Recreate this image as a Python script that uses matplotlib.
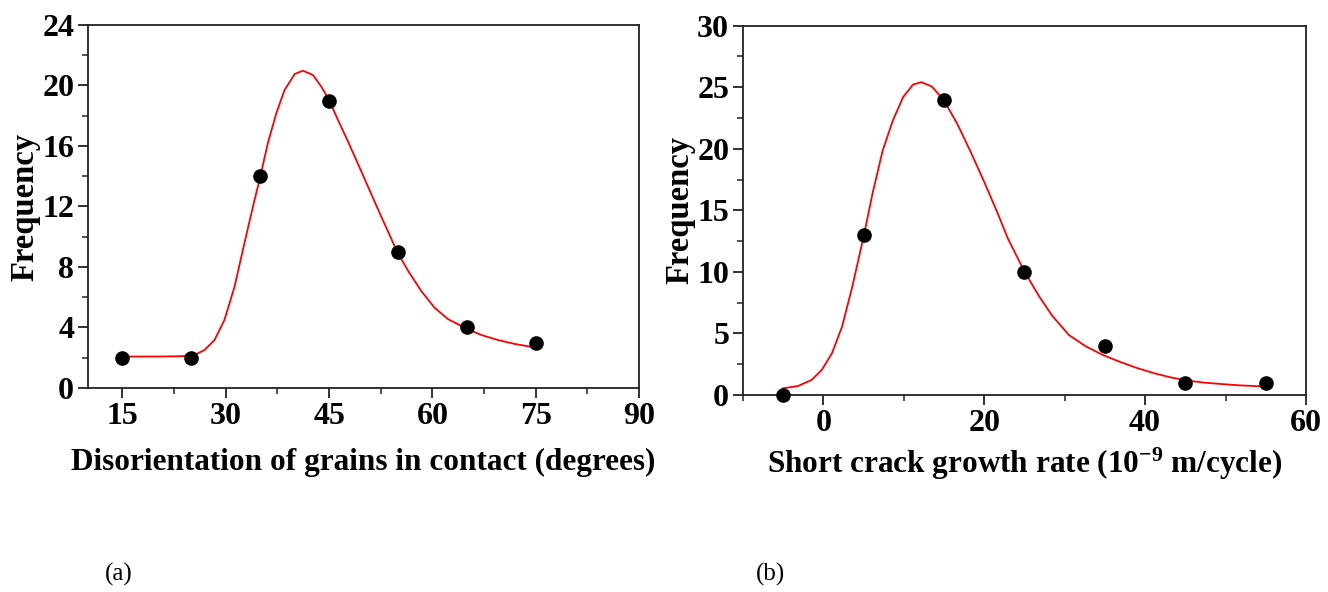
import matplotlib
matplotlib.use("Agg")
import matplotlib.pyplot as plt
from matplotlib.ticker import MultipleLocator, AutoMinorLocator

plt.rcParams["mathtext.fontset"] = "custom"
plt.rcParams["mathtext.rm"] = "Liberation Serif:bold"
plt.rcParams["mathtext.it"] = "Liberation Serif:bold"
plt.rcParams["mathtext.bf"] = "Liberation Serif:bold"

# ---- panel (a): disorientation of grains in contact ----
a_x = [15, 25, 35, 45, 55, 65, 75]
a_freq = [2, 2, 14, 19, 9, 4, 3]
# fitted curve
a_fit_x = [15, 20, 23.5, 25.45, 26.9, 28.36, 29.8, 31.27, 32.7, 33.94, 35.0, 36.1,
           37.33, 38.53, 40.0, 41.2, 42.66, 43.87, 45.0, 46.29, 47.75, 49.2, 50.65,
           52.6, 53.8, 54.87, 56.47, 58.4, 60.33, 62.28, 64.84, 67.12, 69.55, 71.97,
           74.78]
a_fit_y = [2.08, 2.08, 2.1, 2.18, 2.51, 3.17, 4.5, 6.7, 9.57, 11.99, 13.97, 16.18,
           18.16, 19.7, 20.76, 20.98, 20.69, 19.92, 19.04, 17.72, 16.29, 14.81, 13.31,
           11.3, 10.1, 9.0, 7.75, 6.4, 5.3, 4.55, 3.95, 3.5, 3.17, 2.91, 2.69]

# ---- panel (b): short crack growth rate ----
b_x = [-5, 5, 15, 25, 35, 45, 55]
b_freq = [0, 13, 24, 10, 4, 1, 1]
b_fit_x = [-5.05, -3.16, -1.48, -0.21, 1.05, 2.31, 3.58, 5.05, 6.1, 7.37, 8.63, 9.9,
           11.14, 12.2, 13.47, 14.95, 16.63, 18.32, 20.0, 21.68, 22.94, 24.97, 26.73,
           28.43, 30.53, 32.63, 34.74, 36.84, 38.95, 41.06, 43.16, 45.27, 47.38, 49.48,
           51.59, 55.03]
b_fit_y = [0.54, 0.73, 1.22, 2.03, 3.38, 5.54, 8.78, 13.03, 16.36, 19.87, 22.3, 24.19,
           25.22, 25.41, 25.06, 23.98, 22.04, 19.73, 17.3, 14.74, 12.7, 10.06, 8.11,
           6.45, 4.87, 3.95, 3.25, 2.7, 2.2, 1.78, 1.43, 1.17, 1.0, 0.89, 0.79, 0.68]

FONT = "Liberation Serif"
SPINE = "#222222"

fig = plt.figure(figsize=(13.28, 5.92), dpi=100)
ax_a = fig.add_axes([0.0663, 0.3446, 0.4149, 0.6132])
ax_b = fig.add_axes([0.5595, 0.3328, 0.4239, 0.6238])


def style_axes(ax, xlabel, xpad):
    for spine in ax.spines.values():
        spine.set_color(SPINE)
        spine.set_linewidth(1.3)
    ax.tick_params(which="major", direction="out", length=7, width=1.3, color=SPINE,
                   top=False, right=False, pad=3)
    ax.tick_params(which="minor", direction="out", length=4, width=1.1, color=SPINE,
                   top=False, right=False)
    ax.xaxis.set_minor_locator(AutoMinorLocator(2))
    ax.yaxis.set_minor_locator(AutoMinorLocator(2))
    for lab in ax.get_xticklabels() + ax.get_yticklabels():
        lab.set_fontfamily(FONT)
        lab.set_fontweight("bold")
        lab.set_fontsize(23)
    ax.set_xlabel(xlabel, fontfamily=FONT, fontweight="bold", fontsize=22.5, labelpad=xpad)
    ax.set_ylabel("Frequency", fontfamily=FONT, fontweight="bold", fontsize=23.5, labelpad=1)


# panel (a)
ax_a.plot(a_fit_x, a_fit_y, color="red", linewidth=1.3, zorder=2)
ax_a.plot(a_x, a_freq, "o", color="black", markersize=9.5, zorder=3)
ax_a.set_xlim(10, 90)
ax_a.set_ylim(0, 24)
ax_a.set_xticks([15, 30, 45, 60, 75, 90])
ax_a.yaxis.set_major_locator(MultipleLocator(4))
style_axes(ax_a, "Disorientation of grains in contact (degrees)", 12)

# panel (b)
ax_b.plot(b_fit_x, b_fit_y, color="red", linewidth=1.3, zorder=2)
ax_b.plot(b_x, b_freq, "o", color="black", markersize=9.5, zorder=3, clip_on=False)
ax_b.set_xlim(-10, 60)
ax_b.set_ylim(0, 30)
ax_b.xaxis.set_major_locator(MultipleLocator(20))
ax_b.yaxis.set_major_locator(MultipleLocator(5))
style_axes(ax_b, "Short crack growth rate (10$^{-9}$ m/cycle)", 6)

fig.text(0.079, 0.029, "(a)", fontfamily=FONT, fontsize=18, ha="left", va="center")
fig.text(0.5693, 0.029, "(b)", fontfamily=FONT, fontsize=18, ha="left", va="center")

fig.savefig("out.png", dpi=100, facecolor="white")
plt.close(fig)
